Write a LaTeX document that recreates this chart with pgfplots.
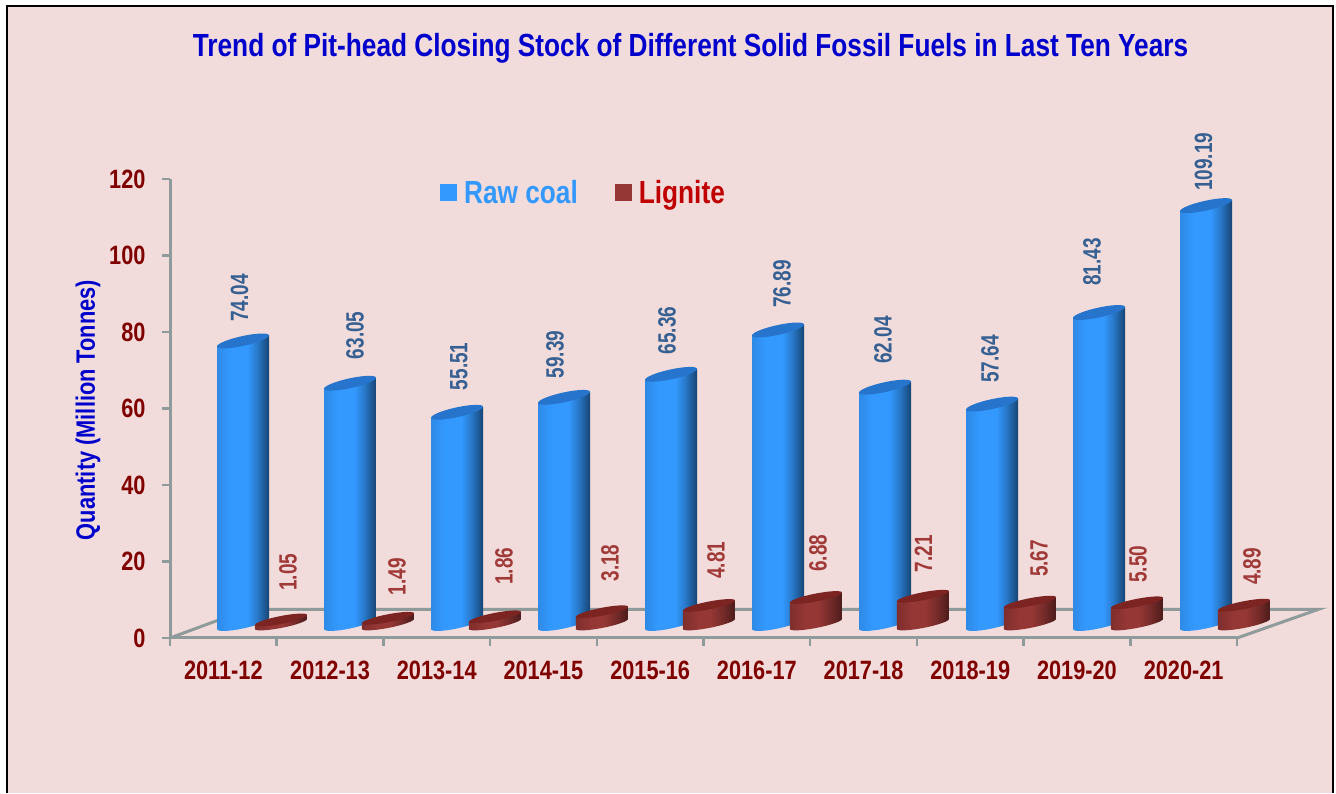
\documentclass[border=0pt]{standalone}
\usepackage{fontspec}
\usepackage{pgfplots}
\usepackage{pgfplotstable}
\pgfplotsset{compat=1.18}
\setmainfont{Liberation Sans}
\newfontfamily\fn{Liberation Sans}[FakeStretch=0.82]
\newfontfamily\fl{Liberation Sans}[FakeStretch=0.76]
\definecolor{bg}{HTML}{F2DCDB}
\definecolor{axisgray}{HTML}{8F9A9A}
\definecolor{ticktext}{HTML}{800000}
\definecolor{titleblue}{HTML}{0000CC}
\definecolor{rawlab}{HTML}{366092}
\definecolor{liglab}{HTML}{A03A38}
\definecolor{rawleg}{HTML}{3399FF}
\definecolor{ligleg}{HTML}{953735}
\definecolor{ligtext}{HTML}{C00000}
\definecolor{rawcap}{HTML}{2674CC}
\definecolor{ligcap}{HTML}{7C2422}
\pgfdeclarehorizontalshading{rawcyl}{100bp}{color(0bp)=(rawleg!90!black);color(25bp)=(rawleg!90!black);color(38bp)=(rawleg);color(54bp)=(rawleg);color(64bp)=(rawleg!78!black);color(75bp)=(rawleg!45!black);color(100bp)=(rawleg!45!black)}
\pgfdeclarehorizontalshading{ligcyl}{100bp}{color(0bp)=(ligleg!85!black);color(25bp)=(ligleg!85!black);color(40bp)=(ligleg);color(52bp)=(ligleg);color(65bp)=(ligleg!75!black);color(75bp)=(ligleg!50!black);color(100bp)=(ligleg!50!black)}
% #1 shading, #2 cap colour, #3 rise of the ellipse, #4 minor half axis
\newcommand\cyl[4]{%
  \pgfmathsetmacro\yA{-#3-\h}%
  \pgfmathsetmacro\yB{-#3-0.5523*#4-\h}%
  \pgfmathsetmacro\yC{-0.5523*#3-#4-\h}%
  \pgfmathsetmacro\yD{-#4-\h}%
  \pgfmathsetmacro\yE{0.5523*#3-#4-\h}%
  \pgfmathsetmacro\yF{#3-0.5523*#4-\h}%
  \pgfmathsetmacro\yG{#3-\h}%
  \shade[shading=#1,draw=none] (-26pt,-#3pt) -- (-26pt,\yA pt)
    .. controls (-26pt,\yB pt) and (-14.36pt,\yC pt) .. (0pt,\yD pt)
    .. controls (14.36pt,\yE pt) and (26pt,\yF pt) .. (26pt,\yG pt)
    -- (26pt,#3pt) -- cycle;
  \pgfpathellipse{\pgfpointorigin}{\pgfpoint{26pt}{#3pt}}{\pgfpoint{0pt}{#4pt}}%
  \pgfsetfillcolor{#2}\pgfusepath{fill}%
}
\pgfdeclareplotmark{cylraw}{\cyl{rawcyl}{rawcap}{5.5}{5}}
\pgfdeclareplotmark{cyllig}{\pgftransformshift{\pgfpoint{0pt}{2pt}}\cyl{ligcyl}{ligcap}{5}{4}}
\pgfplotstableread{
i raw lig rdx rdy ldx ldy
0 74.04 1.05 -3.5 19 7 29
1 63.05 1.49 5 24 9 23
2 55.51 1.86 2 22 9 32
3 59.39 3.18 -9 19 8 30
4 65.36 4.81 -4 20 7 26.5
5 76.89 6.88 4 22 2 25.5
6 62.04 7.21 -2 23 0.5 24
7 57.64 5.67 -2 21 9 25
8 81.43 5.50 -7 26.5 1 20
9 109.19 4.89 -2.5 14.6 8 20
}\datatable
\begin{document}
\begin{tikzpicture}[x=1pt,y=1pt]
\path[fill=white] (0,0) rectangle (1336,793);
\fill[bg] (6.5,0) rectangle (1332.5,786.5);
\draw[black,line width=2pt] (6.5,0) -- (6.5,786.5) -- (1332.5,786.5) -- (1332.5,0);
\node[font=\fn\bfseries\fontsize{32}{38}\selectfont,text=titleblue] at (690.5,744.5) {Trend of Pit-head Closing Stock of Different Solid Fossil Fuels in Last Ten Years};
\node[font=\fn\bfseries\fontsize{26.6}{32}\selectfont,text=titleblue,rotate=90] at (88,383) {Quantity (Million Tonnes)};
% floor
\draw[axisgray,line width=3pt,line join=miter] (170,155) -- (247,183.5) -- (1318,183.5) -- (1237,155);
\begin{axis}[
  at={(170pt,155pt)},anchor=south west,scale only axis,
  width=1067pt,height=459pt,
  xmin=0,xmax=10,ymin=0,ymax=120,
  axis x line*=bottom,axis y line*=left,
  axis line style={draw=axisgray,line width=3pt,-},
  tick style={draw=axisgray,line width=2.5pt},
  major tick length=8pt,tick align=outside,
  xtick={0,1,...,10},
  x tick label as interval,
  xticklabels={2011-12,2012-13,2013-14,2014-15,2015-16,2016-17,2017-18,2018-19,2019-20,2020-21},
  ytick={0,20,...,120},
  /pgf/number format/assume math mode=true,
  ticklabel style={font=\fn\bfseries\fontsize{26.5}{30}\selectfont,text=ticktext},
  xticklabel style={yshift=-11pt},
  yticklabel style={xshift=-13pt},
]
\addplot[draw=none,forget plot] coordinates {(0,0)};
\end{axis}
\begin{axis}[
  at={(243pt,167pt)},anchor=south west,scale only axis,
  width=1070pt,height=462pt,
  xmin=0,xmax=10,ymin=0,ymax=120,
  hide axis,clip=false,
  /pgf/number format/assume math mode=true,
  legend style={at={(0.1812,0.939)},anchor=west,draw=none,fill=none,legend columns=2,
    font=\fn\bfseries\fontsize{32}{38}\selectfont,
    /tikz/every even column/.append style={column sep=35pt}},
  legend cell align=left,
]
\addlegendimage{legend image code/.code={\path[draw=none,fill=none] (0pt,0pt) -- (22pt,0pt);\path[draw=none,fill=rawleg] (0pt,-8.5pt) rectangle (17pt,8.5pt);}}
\addlegendentry{\textcolor{rawleg}{Raw coal}}
\addlegendimage{legend image code/.code={\path[draw=none,fill=none] (0pt,0pt) -- (22pt,0pt);\path[draw=none,fill=ligleg] (0pt,-8.5pt) rectangle (17pt,8.5pt);}}
\addlegendentry{\textcolor{ligtext}{Lignite}}
\addplot[scatter,only marks,mark=cylraw,point meta=y,forget plot,
  visualization depends on={3.85*\thisrow{raw}-2.5\as\h},
  visualization depends on={\thisrow{rdx}\as\ldx},
  visualization depends on={\thisrow{rdy}\as\ldy},
  nodes near coords={\pgfmathprintnumber[fixed,precision=2,zerofill]{\pgfplotspointmeta}},
  every node near coord/.append style={xshift=\ldx pt,yshift=\ldy pt,rotate=90,anchor=west,inner sep=0pt,
    font=\fl\bfseries\fontsize{25}{29}\selectfont,text=rawlab},
] table[x=i,y=raw] {\datatable};
\addplot[scatter,only marks,mark=cyllig,point meta=y,forget plot,
  visualization depends on={3.85*\thisrow{lig}\as\h},
  visualization depends on={\thisrow{ldx}\as\ldx},
  visualization depends on={\thisrow{ldy}\as\ldy},
  nodes near coords={\pgfmathprintnumber[fixed,precision=2,zerofill]{\pgfplotspointmeta}},
  every node near coord/.append style={xshift=\ldx pt,yshift=\ldy pt,rotate=90,anchor=west,inner sep=0pt,
    font=\fl\bfseries\fontsize{25}{29}\selectfont,text=liglab},
] table[x expr=\thisrow{i}+0.355,y=lig] {\datatable};
\end{axis}
\end{tikzpicture}
\end{document}
